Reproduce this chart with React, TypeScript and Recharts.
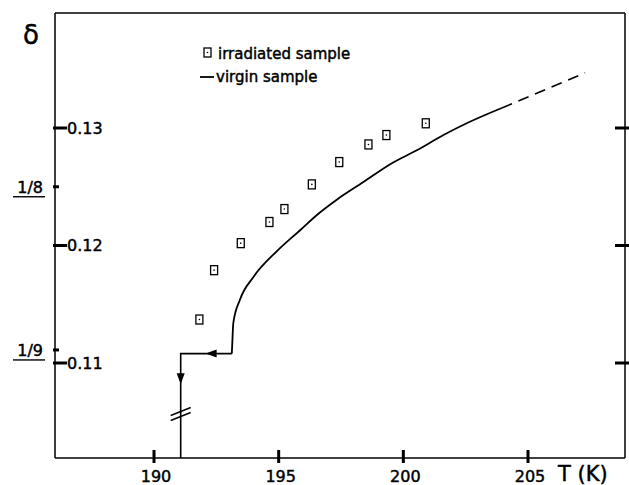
import { ComposedChart, Line, Scatter, XAxis, YAxis } from 'recharts'

// axis ticks
const xTicks = [190, 195, 200, 205]
const yTicks = [0.11, 0.12, 0.13]
const fracTicks = [1 / 9, 1 / 8]
const fracLabels = ['1/9', '1/8']

// irradiated sample (squares)
const irrT = [191.82, 192.41, 193.48, 194.63, 195.23, 196.33, 197.43, 198.6, 199.32, 200.9]
const irrD = [0.1137, 0.1179, 0.1202, 0.122, 0.1231, 0.1252, 0.1271, 0.1286, 0.1294, 0.1304]

// virgin sample: drop at the transition, then the solid curve
const dropT = [191.07, 191.07, 193.12]
const dropD = [0.1019, 0.1108, 0.1108]
const virginT = [193.12, 193.14, 193.18, 193.45, 193.98, 194.92, 195.86, 196.59, 197.33, 198.4, 199.54, 200.54, 201.61, 202.54, 203.95]
const virginD = [0.1108, 0.1117, 0.1134, 0.1154, 0.1173, 0.1195, 0.1213, 0.1227, 0.1239, 0.1254, 0.127, 0.1281, 0.1294, 0.1304, 0.1317]

// dashed extrapolation
const extT = [203.95, 207.29]
const extD = [0.1317, 0.1347]

// arrow heads and axis break on the virgin curve
const leftArrow = [{ T: 192.31, d: 0.1108 }]
const downArrow = [{ T: 191.07, d: 0.1087 }]
const breakMark = [{ T: 191.07, d: 0.1057 }]

const irradiated = irrT.map((T, i) => ({ T, d: irrD[i] }))
const drop = dropT.map((T, i) => ({ T, d: dropD[i] }))
const virgin = virginT.map((T, i) => ({ T, d: virginD[i] }))
const extrap = extT.map((T, i) => ({ T, d: extD[i] }))

const FONT = '"DejaVu Sans", sans-serif'
const X_DOMAIN = [186.029, 208.89]
const Y_DOMAIN = [0.101915, 0.139787]

// slight stroke to get the heavier lettering of the original
const txt = { fontFamily: FONT, fill: '#000', stroke: '#000', strokeWidth: 0.45 }

const BottomTick = ({ x, y, payload }: any) => (
  <g>
    <line x1={x} x2={x} y1={y - 8} y2={y + 5} stroke="#000" strokeWidth={3} />
    <text x={x + 2} y={y + 24} textAnchor="middle" fontSize={16} {...txt}>
      {payload.value}
    </text>
  </g>
)

const TopTick = ({ x, y }: any) => (
  <line x1={x} x2={x} y1={y - 3} y2={y + 10} stroke="#000" strokeWidth={3} />
)

const LeftTick = ({ x, y, payload }: any) => {
  const fi = fracTicks.findIndex((f) => Math.abs(f - payload.value) < 1e-6)
  if (fi >= 0) {
    return (
      <g>
        <line x1={x - 2} x2={x + 4} y1={y} y2={y} stroke="#000" strokeWidth={3} />
        <text x={x - 12} y={y + 6} textAnchor="end" fontSize={16} {...txt}>
          {fracLabels[fi]}
        </text>
        <line x1={x - 42} x2={x - 10} y1={y + 10} y2={y + 10} stroke="#000" strokeWidth={1.4} />
      </g>
    )
  }
  return (
    <g>
      <line x1={x - 2} x2={x + 12} y1={y} y2={y} stroke="#000" strokeWidth={3} />
      <text x={x + 12} y={y + 6} textAnchor="start" fontSize={16} {...txt}>
        {Number(payload.value).toFixed(2)}
      </text>
    </g>
  )
}

const RightTick = ({ x, y }: any) => (
  <line x1={x - 10} x2={x + 4} y1={y} y2={y} stroke="#000" strokeWidth={3} />
)

const Box = ({ cx, cy }: any) => (
  <g>
    <rect x={cx - 3.5} y={cy - 4.5} width={7} height={9} fill="#fff" stroke="#000" strokeWidth={1.3} />
    <circle cx={cx} cy={cy} r={0.8} fill="#000" />
  </g>
)

const LeftHead = ({ cx, cy }: any) => (
  <path d={`M${cx - 6},${cy} L${cx + 5},${cy - 4} L${cx + 5},${cy + 4} Z`} fill="#000" />
)

const DownHead = ({ cx, cy }: any) => (
  <path d={`M${cx},${cy + 6} L${cx - 4},${cy - 5} L${cx + 4},${cy - 5} Z`} fill="#000" />
)

const BreakShape = ({ cx, cy }: any) => (
  <g stroke="#000" strokeWidth={1.5}>
    <line x1={cx - 10} y1={cy + 2} x2={cx + 10} y2={cy - 6} />
    <line x1={cx - 10} y1={cy + 7} x2={cx + 10} y2={cy - 1} />
  </g>
)

export default function App() {
  return (
    <div style={{ position: 'absolute', left: 0, top: 0, width: 629, height: 485, background: '#fff' }}>
      <ComposedChart width={629} height={485} margin={{ top: 0, right: 0, bottom: 0, left: 0 }}>
        <XAxis
          xAxisId={0}
          dataKey="T"
          type="number"
          domain={X_DOMAIN}
          allowDataOverflow
          ticks={xTicks}
          interval={0}
          height={27}
          tickSize={0}
          tickMargin={0}
          tickLine={false}
          tick={<BottomTick />}
          axisLine={{ stroke: '#000', strokeWidth: 1.5 }}
        />
        <XAxis
          xAxisId="top"
          orientation="top"
          type="number"
          domain={X_DOMAIN}
          allowDataOverflow
          ticks={xTicks}
          interval={0}
          height={13}
          tickSize={0}
          tickMargin={0}
          tickLine={false}
          tick={<TopTick />}
          axisLine={{ stroke: '#000', strokeWidth: 1.5 }}
        />
        <YAxis
          yAxisId={0}
          dataKey="d"
          type="number"
          domain={Y_DOMAIN}
          allowDataOverflow
          ticks={[...yTicks, ...fracTicks].sort((a, b) => a - b)}
          interval={0}
          width={55}
          tickSize={0}
          tickMargin={0}
          tickLine={false}
          tick={<LeftTick />}
          axisLine={{ stroke: '#000', strokeWidth: 1.5 }}
        />
        <YAxis
          yAxisId="r"
          orientation="right"
          type="number"
          domain={Y_DOMAIN}
          allowDataOverflow
          ticks={yTicks}
          interval={0}
          width={4}
          tickSize={0}
          tickMargin={0}
          tickLine={false}
          tick={<RightTick />}
          axisLine={{ stroke: '#000', strokeWidth: 1.5 }}
        />
        <Line data={drop} dataKey="d" type="linear" stroke="#000" strokeWidth={1.6} dot={false} isAnimationActive={false} />
        <Line data={virgin} dataKey="d" type="monotone" stroke="#000" strokeWidth={1.8} dot={false} isAnimationActive={false} />
        <Line data={extrap} dataKey="d" type="linear" stroke="#000" strokeWidth={1.6} strokeDasharray="11 7" dot={false} isAnimationActive={false} />
        <Scatter data={irradiated} dataKey="d" shape={<Box />} isAnimationActive={false} />
        <Scatter data={leftArrow} dataKey="d" shape={<LeftHead />} isAnimationActive={false} />
        <Scatter data={downArrow} dataKey="d" shape={<DownHead />} isAnimationActive={false} />
        <Scatter data={breakMark} dataKey="d" shape={<BreakShape />} isAnimationActive={false} />
      </ComposedChart>
      <svg width={629} height={485} style={{ position: 'absolute', left: 0, top: 0, pointerEvents: 'none' }}>
        <text x={31} y={44} textAnchor="middle" fontSize={26} {...txt}>δ</text>
        <text x={558} y={481} fontSize={21} {...txt}>T (K)</text>
        <rect x={204} y={48} width={7} height={9} fill="#fff" stroke="#000" strokeWidth={1.3} />
        <circle cx={207.5} cy={52.5} r={0.8} fill="#000" />
        <text x={218} y={59} fontSize={15} {...txt}>irradiated sample</text>
        <line x1={200} x2={214} y1={77} y2={77} stroke="#000" strokeWidth={1.8} />
        <text x={216} y={82} fontSize={15} {...txt}>virgin sample</text>
      </svg>
    </div>
  )
}
